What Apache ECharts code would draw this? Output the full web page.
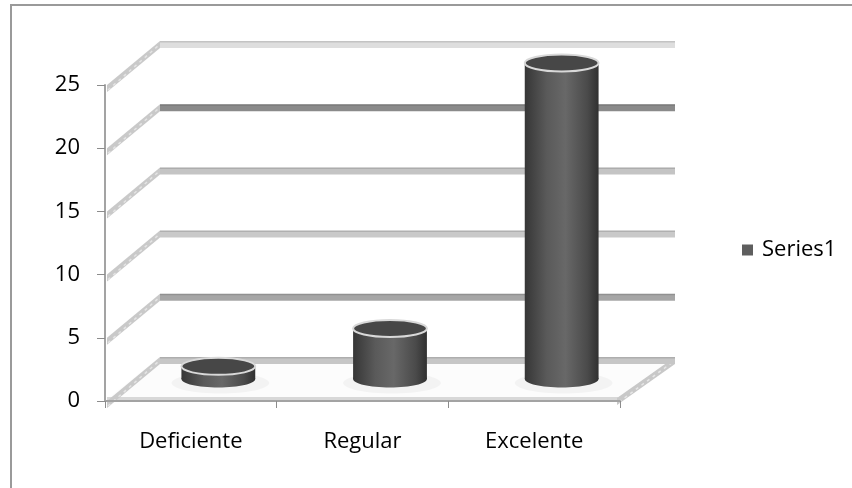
<!DOCTYPE html>
<html>
<head>
<meta charset="utf-8">
<script src="https://cdn.jsdelivr.net/npm/echarts@6/dist/echarts.min.js"></script>
<style>
  html, body { margin: 0; padding: 0; background: #fff; }
  #chart { width: 852px; height: 488px; }
</style>
</head>
<body>
<div id="chart"></div>
<script>
// Chart data
const categories = ['Deficiente', 'Regular', 'Excelente'];
const seriesName = 'Series1';
const seriesValues = [1, 4, 25];
const yTicks = [0, 5, 10, 15, 20, 25];

// Shades of the back-wall gridlines (one per tick, bottom to top)
const gridShades = ['#c6c6c6', '#a6a6a6', '#c9c9c9', '#c4c4c4', '#8a8a8a', '#dedede'];

// Depth offset of the 3D box: back wall relative to the front plane (px)
const DX = 55;
const DY = -44;
const BAND = 7;
const FONT = '"Open Sans", "DejaVu Sans", sans-serif';

const chart = echarts.init(document.getElementById('chart'), null, { renderer: 'canvas' });

function renderFloor(params, api) {
  const cs = params.coordSys;
  const y0 = api.coord([0, 0])[1];
  const xl = cs.x, xr = cs.x + cs.width;
  return {
    type: 'group',
    children: [
      { type: 'polygon', shape: { points: [[xl, y0], [xr, y0], [xr + DX, y0 + DY], [xl + DX, y0 + DY]] },
        style: { fill: '#fcfcfc' } },
      { type: 'rect', shape: { x: xl + 2, y: y0 - 4, width: cs.width - 4, height: 4 },
        style: { fill: '#d8d8d8' } },
      { type: 'polygon', shape: { points: [[xr - 3, y0 - 3], [xr + DX, y0 + DY], [xr + DX, y0 + DY + BAND], [xr - 3, y0 + 4]] },
        style: { fill: '#c8c8c8' } },
      { type: 'polyline', shape: { points: [[xr - 1, y0 + 1], [xr + DX - 1, y0 + DY + 4]] },
        style: { stroke: '#e6e6e6', lineWidth: 1.5, lineDash: [3, 4] } }
    ]
  };
}

function renderWall(params, api) {
  const cs = params.coordSys;
  const v = api.value(1);
  const y = api.coord([0, v])[1];
  const xl = cs.x;
  const shade = gridShades[params.dataIndex];
  return {
    type: 'group',
    children: [
      // side wall gridline
      { type: 'polygon', shape: { points: [[xl + 2, y], [xl + DX, y + DY], [xl + DX, y + DY + BAND], [xl + 2, y + BAND]] },
        style: { fill: '#c9c9c9' } },
      { type: 'polyline', shape: { points: [[xl + 3, y + BAND - 2], [xl + DX - 1, y + DY + BAND - 3]] },
        style: { stroke: '#e4e4e4', lineWidth: 1.5, lineDash: [3, 4] } },
      // back wall gridline
      { type: 'rect', shape: { x: xl + DX, y: y + DY, width: cs.width, height: BAND },
        style: { fill: shade } },
      { type: 'rect', shape: { x: xl + DX, y: y + DY, width: cs.width, height: 1.5 },
        style: { fill: 'rgba(0,0,0,0.12)' } }
    ]
  };
}

function renderCylinder(params, api) {
  const i = api.value(0);
  const v = api.value(1);
  const top = api.coord([i, v]);
  const base = api.coord([i, 0]);
  const cx = top[0] + DX / 2;
  const yt = top[1] + DY / 2;
  const yb = base[1] + DY / 2;
  const rx = api.size([1, 0])[0] * 0.43 / 2;
  const ry = 8.5;
  const bodyFill = new echarts.graphic.LinearGradient(0, 0, 1, 0, [
    { offset: 0, color: '#363636' },
    { offset: 0.3, color: '#5a5a5a' },
    { offset: 0.55, color: '#686868' },
    { offset: 0.85, color: '#4a4a4a' },
    { offset: 1, color: '#303030' }
  ]);
  return {
    type: 'group',
    children: [
      { type: 'ellipse', shape: { cx: cx + 2, cy: yb + 4, rx: rx + 12, ry: ry + 2 },
        style: { fill: 'rgba(0,0,0,0.035)' } },
      { type: 'rect', shape: { x: cx - rx, y: yt, width: rx * 2, height: yb - yt },
        style: { fill: bodyFill } },
      { type: 'ellipse', shape: { cx: cx, cy: yb, rx: rx, ry: ry },
        style: { fill: bodyFill } },
      { type: 'ellipse', shape: { cx: cx, cy: yt, rx: rx, ry: ry },
        style: { fill: '#474747', stroke: '#d9d9d9', lineWidth: 2 } }
    ]
  };
}

const option = {
  animation: false,
  backgroundColor: '#ffffff',
  textStyle: { fontFamily: FONT },
  graphic: [
    { type: 'rect', shape: { x: 11, y: 5, width: 900, height: 600 },
      style: { fill: 'transparent', stroke: '#9a9a9a', lineWidth: 2 }, z: 100 }
  ],
  legend: {
    data: [{ name: seriesName, icon: 'rect' }],
    left: 737,
    top: 234,
    itemWidth: 11,
    itemHeight: 11,
    textStyle: { fontFamily: FONT, fontSize: 22, color: '#000', padding: [0, 0, 0, 4] }
  },
  grid: { left: 105, top: 85, width: 515, height: 316 },
  xAxis: {
    type: 'category',
    data: categories,
    axisLine: { show: true, lineStyle: { color: '#a3a3a3', width: 2 } },
    axisTick: { show: true, length: 7, lineStyle: { color: '#8c8c8c', width: 1 } },
    axisLabel: { fontFamily: FONT, fontSize: 22, color: '#000', margin: 30 },
    splitLine: { show: false },
    z: 10
  },
  yAxis: {
    type: 'value',
    min: 0,
    max: 25,
    interval: 5,
    axisLine: { show: true, lineStyle: { color: '#a3a3a3', width: 2 } },
    axisTick: { show: true, length: 8, lineStyle: { color: '#8c8c8c', width: 1 } },
    axisLabel: { fontFamily: FONT, fontSize: 22, color: '#000', margin: 25 },
    splitLine: { show: false },
    z: 10
  },
  series: [
    { type: 'custom', name: 'floor', renderItem: renderFloor, data: [[0, 0]], silent: true, z: 1 },
    { type: 'custom', name: 'walls', renderItem: renderWall, data: yTicks.map(v => [0, v]), silent: true, z: 2 },
    { type: 'custom', name: seriesName, renderItem: renderCylinder,
      itemStyle: { color: '#5e5e5e' },
      data: seriesValues.map((v, i) => [i, v]), z: 3 }
  ]
};

chart.setOption(option);
</script>
</body>
</html>
